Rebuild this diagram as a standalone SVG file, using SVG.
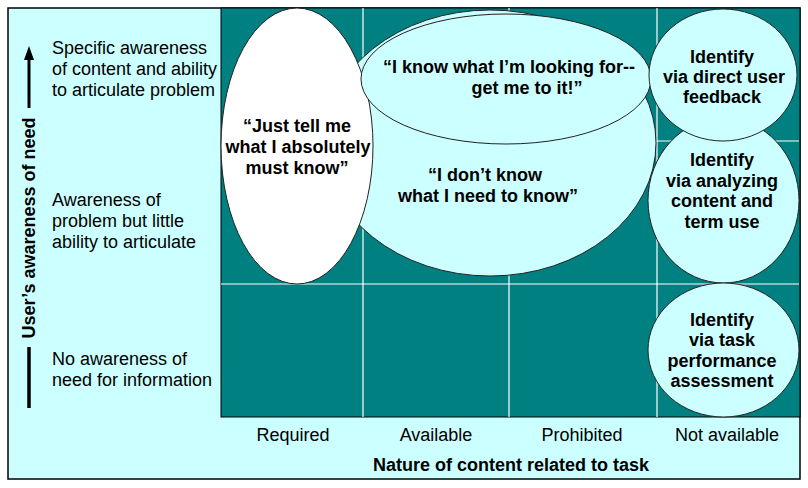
<svg xmlns="http://www.w3.org/2000/svg" width="808" height="488" viewBox="0 0 808 488">
<style>
.lbl{font-family:"Liberation Sans",Arial,sans-serif;font-size:18px;fill:#000}
.b{font-weight:bold}
.m{text-anchor:middle}
.grid{stroke:#fff;stroke-width:1.2;fill:none}
.ell{stroke:#222;stroke-width:1}
.cyan{fill:#ccffff}
</style>
<defs>
<marker id="ah" markerWidth="4" markerHeight="4" refX="2" refY="2" orient="auto" markerUnits="strokeWidth"><path d="M0,0 L4,2 L0,4 z" fill="#000"/></marker>
</defs>
<rect x="0" y="0" width="808" height="488" fill="#fff"/>
<rect id="frame" x="8" y="8" width="792" height="471" fill="#ccffff" stroke="#000" stroke-width="1.5"/>
<g id="matrix">
<rect x="221" y="8" width="579" height="409" fill="#008080" stroke="#000" stroke-width="1"/>
<line class="grid" x1="363" y1="8" x2="363" y2="417"/>
<line class="grid" x1="509" y1="8" x2="509" y2="417"/>
<line class="grid" x1="657" y1="8" x2="657" y2="417"/>
<line class="grid" x1="221" y1="141" x2="799" y2="141"/>
<line class="grid" x1="221" y1="284" x2="799" y2="284"/>
</g>
<g id="row-labels">
<text class="lbl" x="52" y="54">Specific awareness</text>
<text class="lbl" x="52" y="75">of content and ability</text>
<text class="lbl" x="52" y="96">to articulate problem</text>
<text class="lbl" x="52" y="206">Awareness of</text>
<text class="lbl" x="52" y="227">problem but little</text>
<text class="lbl" x="52" y="248">ability to articulate</text>
<text class="lbl" x="52" y="365">No awareness of</text>
<text class="lbl" x="52" y="386">need for information</text>
</g>
<g id="column-labels">
<text class="lbl m" x="293" y="441">Required</text>
<text class="lbl m" x="436" y="441">Available</text>
<text class="lbl m" x="582" y="441">Prohibited</text>
<text class="lbl m" x="727" y="441">Not available</text>
<text class="lbl b m" x="511" y="471">Nature of content related to task</text>
</g>
<g id="connectors">
<line x1="29" y1="108" x2="29" y2="56" stroke="#000" stroke-width="3"/>
<polygon points="29,46 24,60 34,60" fill="#000"/>
<line x1="29" y1="347" x2="29" y2="408" stroke="#000" stroke-width="3.5"/>
<text class="lbl b m" x="35" y="228" transform="rotate(-90 35 228)">User’s awareness of need</text>
</g>
<g id="dont-know">
<ellipse class="ell cyan" cx="490" cy="143" rx="166" ry="133"/>
<text class="lbl b m" x="485" y="181">“I don’t know</text>
<text class="lbl b m" x="488" y="202">what I need to know”</text>
</g>
<g id="just-tell-me">
<ellipse class="ell" cx="297" cy="146" rx="76" ry="138" fill="#fff"/>
<text class="lbl b m" x="297" y="132">“Just tell me</text>
<text class="lbl b m" x="298" y="153">what I absolutely</text>
<text class="lbl b m" x="297" y="174">must know”</text>
</g>
<g id="know-looking">
<ellipse class="ell cyan" cx="506" cy="79" rx="145" ry="65"/>
<text class="lbl b m" x="509" y="73">“I know what I’m looking for--</text>
<text class="lbl b m" x="527" y="94">get me to it!”</text>
</g>
<g id="identify-analyzing">
<ellipse class="ell cyan" cx="723.5" cy="200.5" rx="75.5" ry="82.5"/>
<text class="lbl b m" x="722" y="166">Identify</text>
<text class="lbl b m" x="722" y="187">via analyzing</text>
<text class="lbl b m" x="722" y="207">content and</text>
<text class="lbl b m" x="722" y="228">term use</text>
</g>
<g id="identify-feedback">
<ellipse class="ell cyan" cx="723" cy="75" rx="74" ry="66"/>
<text class="lbl b m" x="722" y="63">Identify</text>
<text class="lbl b m" x="724" y="83">via direct user</text>
<text class="lbl b m" x="722" y="103">feedback</text>
</g>
<g id="identify-task">
<ellipse class="ell cyan" cx="723.5" cy="350" rx="75.5" ry="67"/>
<text class="lbl b m" x="722" y="326">Identify</text>
<text class="lbl b m" x="722" y="346">via task</text>
<text class="lbl b m" x="722" y="367">performance</text>
<text class="lbl b m" x="722" y="387">assessment</text>
</g>
</svg>
